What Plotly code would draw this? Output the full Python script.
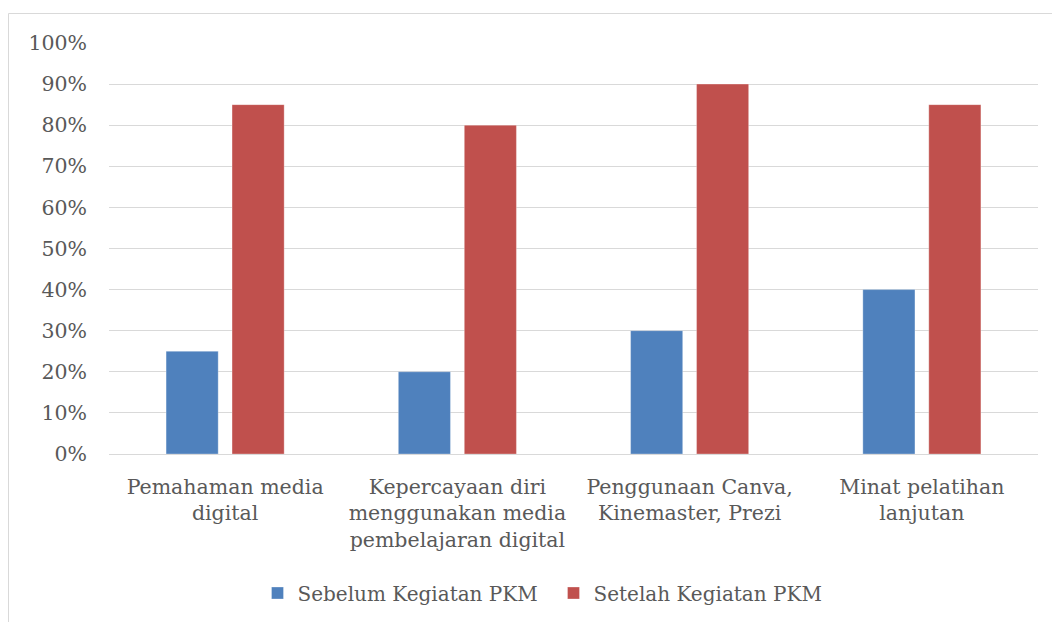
import plotly.graph_objects as go

categories = [
    "Pemahaman media<br>digital",
    "Kepercayaan diri<br>menggunakan media<br>pembelajaran digital",
    "Penggunaan Canva,<br>Kinemaster, Prezi",
    "Minat pelatihan<br>lanjutan",
]
sebelum = [0.25, 0.20, 0.30, 0.40]
setelah = [0.85, 0.80, 0.90, 0.85]
series_names = ["Sebelum Kegiatan PKM", "Setelah Kegiatan PKM"]
colors = ["#4F81BD", "#C0504D"]

FONT = "DejaVu Serif"
FS = 20.5
TXT = "#595959"

fig = go.Figure()
for name, vals, col in zip(series_names, [sebelum, setelah], colors):
    fig.add_trace(go.Bar(
        x=categories, y=vals, name=name,
        marker=dict(color=col, line=dict(color="rgba(255,255,255,0.6)", width=0.5)),
    ))

# page is offset by the 8px body margin
L, R, T, B = 101, 30, 35, 176
W, H = 1060, 622
pw, ph = W - L - R, H - T - B
bottom = H - B

fig.update_layout(
    width=W, height=H,
    margin=dict(l=L, r=R, t=T, b=B),
    paper_bgcolor="white", plot_bgcolor="white",
    barmode="group", bargap=0.432, bargroupgap=0.21,
    font=dict(family=FONT, size=FS, color=TXT),
    showlegend=True,
    legend=dict(orientation="h", x=0.5 - 20 / pw, xanchor="center", y=(bottom - 585) / ph,
                yanchor="middle", font=dict(family=FONT, size=20, color=TXT),
                itemwidth=30, entrywidth=251, traceorder="normal"),
    xaxis=dict(showgrid=False, showline=True, linecolor="#D9D9D9", linewidth=1,
               ticks="", ticklabelstandoff=14,
               tickfont=dict(family=FONT, size=FS, color=TXT)),
    yaxis=dict(range=[0, 1], dtick=0.1, tickformat=".0%", showgrid=True,
               gridcolor="#D9D9D9", gridwidth=1, zeroline=False, showline=False,
               ticks="", ticklabelstandoff=21,
               tickfont=dict(family=FONT, size=FS, color=TXT)),
    shapes=[dict(type="path", xref="paper", yref="paper",
                 path=f"M {(1070-L)/pw} {(bottom-5.5)/ph} L {(0.5-L)/pw} {(bottom-5.5)/ph} L {(0.5-L)/pw} {(bottom-640)/ph}",
                 line=dict(color="#D9D9D9", width=1))],
)

fig.write_html("out.html")
